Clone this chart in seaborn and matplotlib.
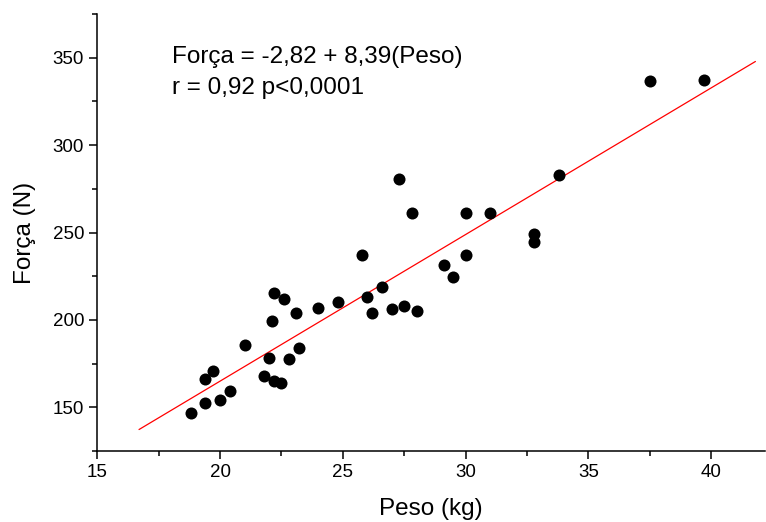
import numpy as np
import pandas as pd
import seaborn as sns
import matplotlib.pyplot as plt
from matplotlib.ticker import MultipleLocator

# Peso (kg) and Força (N)
peso = [18.8, 19.4, 19.4, 19.7, 20.0, 20.4, 21.0, 21.8, 22.0, 22.1,
        22.2, 22.2, 22.5, 22.6, 22.8, 23.1, 23.2, 24.0, 24.8, 25.8,
        26.0, 26.2, 26.6, 27.0, 27.3, 27.5, 27.8, 28.0, 29.1, 29.5,
        30.0, 30.0, 31.0, 32.8, 32.8, 33.8, 37.5, 39.7]
forca = [146.6, 152.3, 166.0, 170.6, 154.0, 159.1, 185.4, 167.9, 178.4, 199.2,
         165.2, 215.3, 163.7, 211.7, 177.8, 203.7, 183.9, 207.0, 210.2, 237.4,
         213.0, 203.7, 218.6, 206.5, 280.9, 208.2, 261.4, 205.3, 231.2, 224.4,
         261.4, 237.4, 261.4, 249.2, 244.5, 283.2, 336.9, 337.4]

# regression line from the chart's equation
intercept = -2.82
slope = 8.39
line_x = [16.7, 41.8]


def main():
    df = pd.DataFrame({"Peso": peso, "Forca": forca})
    line_df = pd.DataFrame({"x": line_x})
    line_df["y"] = intercept + slope * line_df["x"]

    sns.set_style("ticks")
    plt.rcParams["font.family"] = ["Liberation Sans", "DejaVu Sans"]
    plt.rcParams["text.color"] = "black"
    plt.rcParams["axes.labelcolor"] = "black"

    fig = plt.figure(figsize=(7.66, 5.22), dpi=100)
    ax = fig.add_axes([0.127, 0.136, 0.872, 0.837])

    sns.lineplot(data=line_df, x="x", y="y", color="red", linewidth=0.9, ax=ax)
    sns.scatterplot(data=df, x="Peso", y="Forca", color="black", s=75,
                    edgecolor="black", linewidth=0, ax=ax, zorder=3)

    ax.set_xlim(15, 42.2)
    ax.set_ylim(125, 375)
    ax.xaxis.set_major_locator(MultipleLocator(5))
    ax.xaxis.set_minor_locator(MultipleLocator(2.5))
    ax.yaxis.set_major_locator(MultipleLocator(50))
    ax.yaxis.set_minor_locator(MultipleLocator(25))
    ax.tick_params(which="major", direction="out", length=6, width=1.1,
                   labelsize=13.5, colors="black")
    ax.tick_params(which="minor", direction="out", length=3.5, width=1.1,
                   colors="black")
    for side in ["top", "right"]:
        ax.spines[side].set_visible(False)
    for side in ["left", "bottom"]:
        ax.spines[side].set_color("black")
        ax.spines[side].set_linewidth(1.1)

    ax.set_xlabel("Peso (kg)", fontsize=17.5, labelpad=12)
    ax.set_ylabel("Força (N)", fontsize=17.5, labelpad=12)

    ax.text(0.112, 0.902, "Força = -2,82 + 8,39(Peso)", transform=ax.transAxes,
            fontsize=17.5, va="center", ha="left")
    ax.text(0.112, 0.831, "r = 0,92 p<0,0001", transform=ax.transAxes,
            fontsize=17.5, va="center", ha="left")

    fig.savefig("out.png", dpi=100)


if __name__ == "__main__":
    main()
